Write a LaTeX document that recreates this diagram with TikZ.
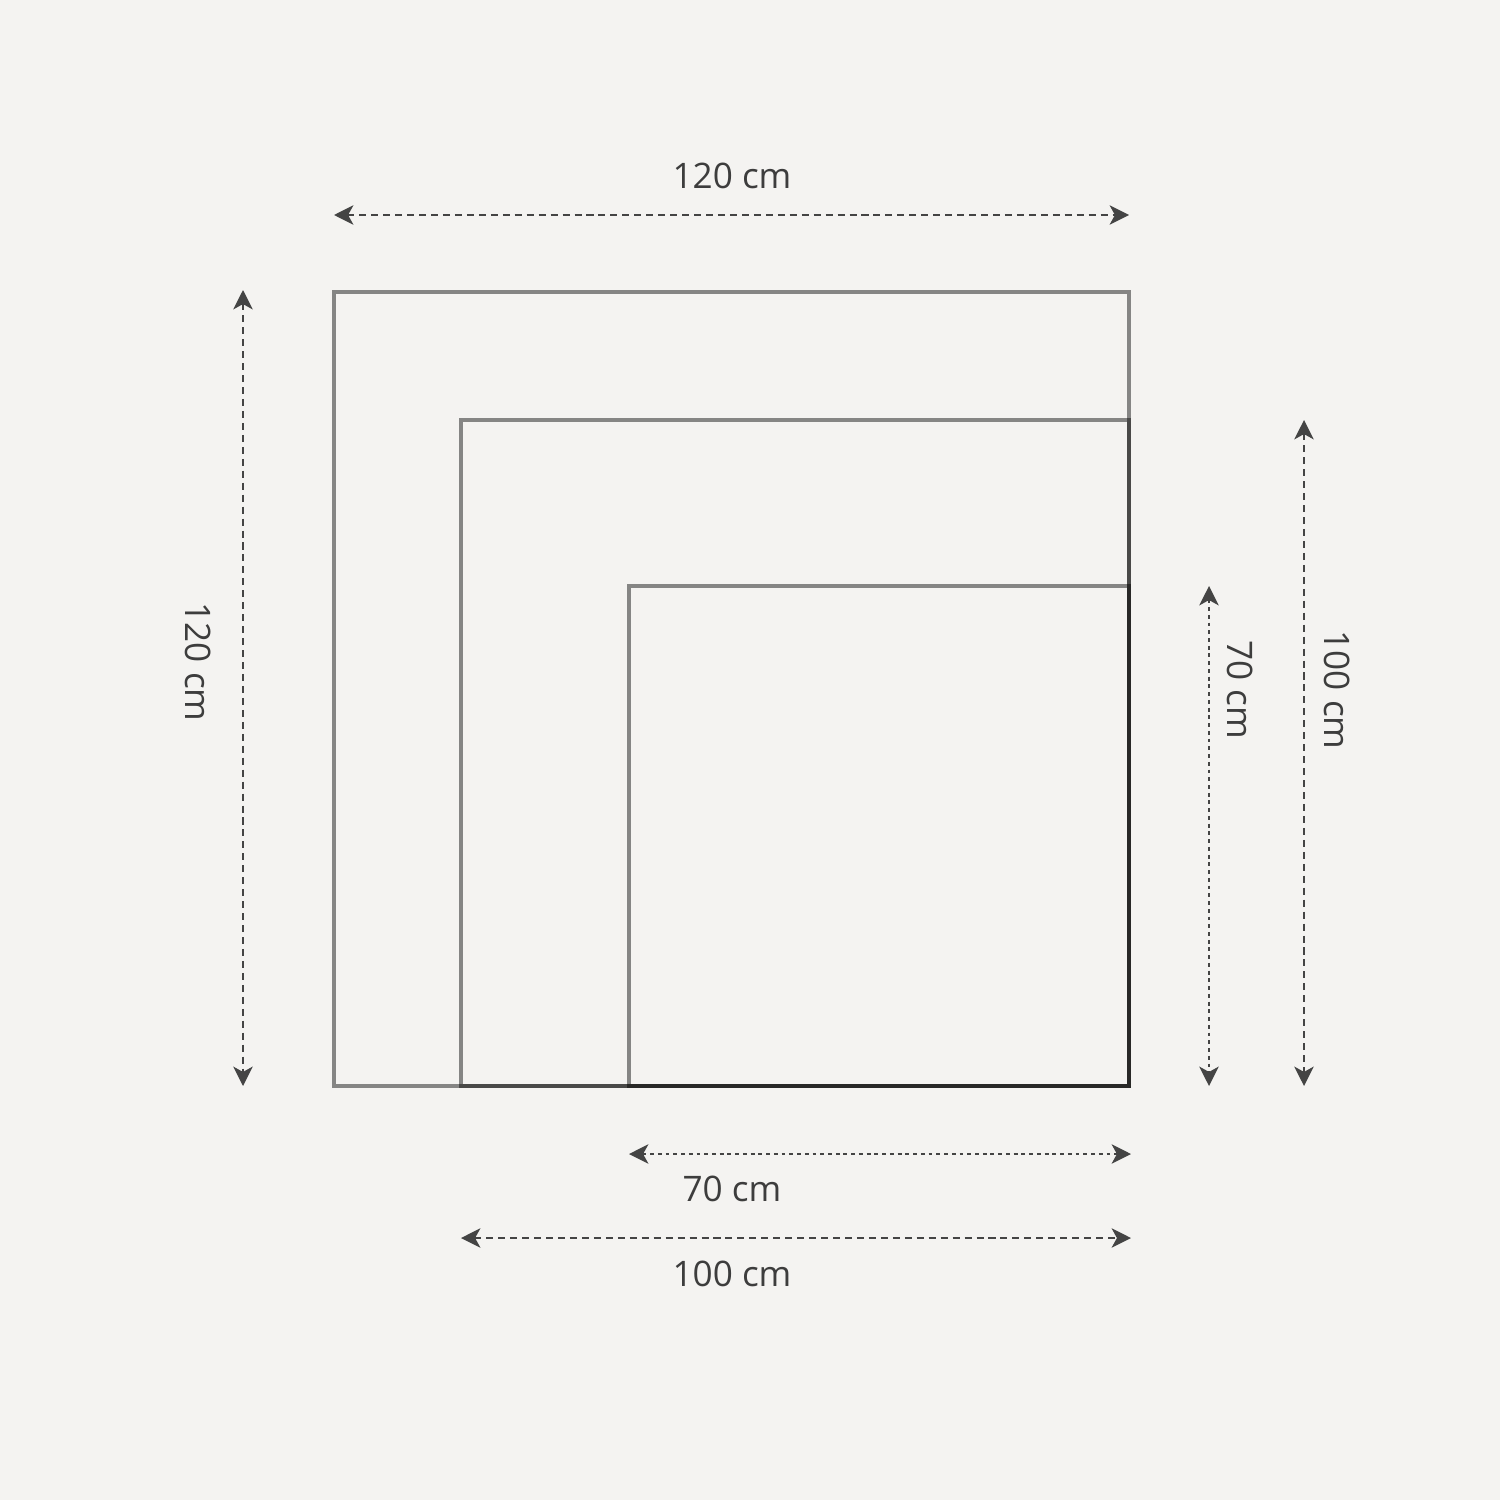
\documentclass[tikz,border=0pt]{standalone}
\usepackage{fontspec}
\setmainfont{Open Sans}
\usetikzlibrary{arrows.meta}
\definecolor{paper}{HTML}{F4F3F1}
\definecolor{ink}{HTML}{444444}
\tikzset{
  frame/.style={draw=black,draw opacity=0.45,line width=1pt},
  dim/.style={ink,line width=0.65pt,dash pattern=on 2pt off 1.4pt,{Stealth[length=5.5pt,width=5.5pt,inset=1.5pt]}-{Stealth[length=5.5pt,width=5.5pt,inset=1.5pt]}},
  fine/.style={dim,dash pattern=on 1.1pt off 1.1pt},
  lbl/.style={text=ink!90!black,font=\fontsize{10}{12}\selectfont,inner sep=0pt}
}
\begin{document}
\begin{tikzpicture}[x=0.01cm,y=-0.01cm]
\fill[paper] (0,0) rectangle (1500,1500);
\useasboundingbox (0,0) rectangle (1500,1500);

% Ecken
\coordinate (br) at (1129,1086);
\coordinate (big) at (334,292);
\coordinate (mid) at (461,420);
\coordinate (sml) at (629,586);

% drei Quadrate
\draw[frame] (big) rectangle (br);
\draw[frame] (mid) rectangle (br);
\draw[frame] (sml) rectangle (br);

% oben: 120 cm
\coordinate (t1) at (334,215);
\coordinate (t2) at (1129,215);
\draw[dim] (t1) -- (t2);
\node[lbl] (topl) at (732,176) {120 cm};

% links: 120 cm
\coordinate (l1) at (243,290);
\coordinate (l2) at (243,1086);
\draw[dim] (l1) -- (l2);
\node[lbl,rotate=-90] (leftl) at (198,662) {120 cm};

% rechts: 70 cm und 100 cm
\coordinate (r1) at (1209,586);
\coordinate (r2) at (1209,1086);
\draw[fine] (r1) -- (r2);
\node[lbl,rotate=-90] (r70) at (1240,690) {70 cm};
\coordinate (s1) at (1304,420);
\coordinate (s2) at (1304,1086);
\draw[dim] (s1) -- (s2);
\node[lbl,rotate=-90] (r100) at (1337,690) {100 cm};

% unten: 70 cm und 100 cm
\coordinate (b1) at (629,1154);
\coordinate (b2) at (1131,1154);
\draw[fine] (b1) -- (b2);
\node[lbl] (b70) at (732,1189) {70 cm};
\coordinate (c1) at (461,1238);
\coordinate (c2) at (1131,1238);
\draw[dim] (c1) -- (c2);
\node[lbl] (b100) at (732,1274) {100 cm};
\end{tikzpicture}
\end{document}
